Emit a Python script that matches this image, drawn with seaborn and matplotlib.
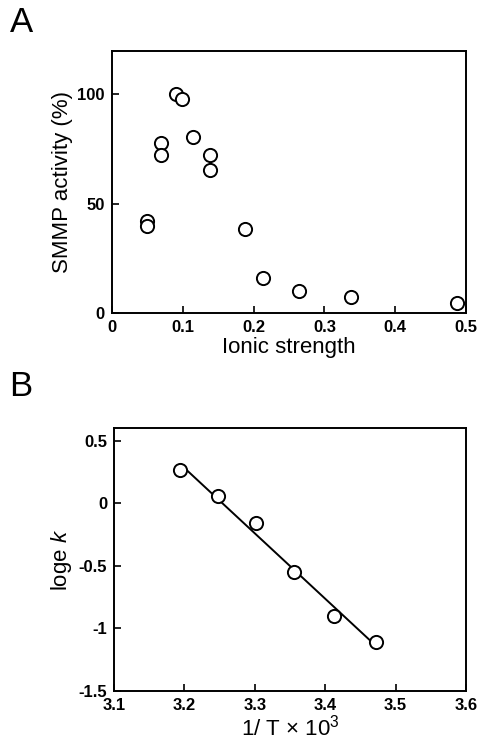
import numpy as np
import pandas as pd
import seaborn as sns
import matplotlib.pyplot as plt

# panel A: activity vs ionic strength
ionic_strength = [0.05, 0.05, 0.069, 0.069, 0.091, 0.099, 0.114, 0.139, 0.139,
                  0.188, 0.214, 0.264, 0.337, 0.487]
smmp_activity = [42, 40, 78, 72.5, 100, 98, 80.5, 72.5, 65.5,
                 38.5, 16.3, 10, 7.5, 4.7]

# panel B: Arrhenius plot
inv_temp = [3.194, 3.247, 3.301, 3.356, 3.412, 3.472]
log_k = [0.265, 0.061, -0.16, -0.553, -0.904, -1.107]

a_xticks = [0, 0.1, 0.2, 0.3, 0.4, 0.5]
a_xticklabels = ["0", "0.1", "0.2", "0.3", "0.4", "0.5"]
a_yticks = [0, 50, 100]
b_xticks = [3.1, 3.2, 3.3, 3.4, 3.5, 3.6]
b_yticks = [0.5, 0, -0.5, -1, -1.5]
b_yticklabels = ["0.5", "0", "-0.5", "-1", "-1.5"]

sns.set_theme(style="ticks")
plt.rcParams["font.family"] = ["Liberation Sans", "DejaVu Sans"]
plt.rcParams["mathtext.fontset"] = "custom"
plt.rcParams["mathtext.rm"] = "Liberation Sans"
plt.rcParams["mathtext.it"] = "Liberation Sans:italic"
plt.rcParams["axes.unicode_minus"] = False
plt.rcParams["text.color"] = "black"
plt.rcParams["axes.labelcolor"] = "black"

fig = plt.figure(figsize=(4.8, 7.46), dpi=100)
ax_a = fig.add_axes([0.233, 0.580, 0.738, 0.352])
ax_b = fig.add_axes([0.2375, 0.074, 0.7335, 0.352])

marker_kw = dict(marker="o", s=90, facecolor="white", edgecolor="black", linewidth=1.4)

df_a = pd.DataFrame({"I": ionic_strength, "act": smmp_activity})
sns.scatterplot(data=df_a, x="I", y="act", ax=ax_a, **marker_kw)
ax_a.set_xlim(0, 0.5)
ax_a.set_ylim(0, 120)
ax_a.set_xticks(a_xticks)
ax_a.set_xticklabels(a_xticklabels)
ax_a.set_yticks(a_yticks)
ax_a.set_xlabel("Ionic strength", fontsize=16, labelpad=1)
ax_a.set_ylabel("SMMP activity (%)", fontsize=16, labelpad=3)

df_b = pd.DataFrame({"invT": inv_temp, "logk": log_k})
sns.regplot(data=df_b, x="invT", y="logk", ax=ax_b, ci=None, truncate=True,
            scatter=False, line_kws=dict(color="black", linewidth=1.4))
sns.scatterplot(data=df_b, x="invT", y="logk", ax=ax_b, zorder=3, **marker_kw)
ax_b.set_xlim(3.1, 3.6)
ax_b.set_ylim(-1.5, 0.6)
ax_b.set_xticks(b_xticks)
ax_b.set_yticks(b_yticks)
ax_b.set_yticklabels(b_yticklabels)
ax_b.set_xlabel("1/ T $\\times$ 10$^3$", fontsize=16, labelpad=1)
ax_b.set_ylabel("loge $\\it{k}$", fontsize=16, labelpad=3)

for ax in (ax_a, ax_b):
    for side in ax.spines.values():
        side.set_linewidth(1.4)
        side.set_color("black")
    ax.tick_params(direction="in", length=5, width=1.2, labelsize=12,
                   colors="black", pad=5)
    for lab in ax.get_xticklabels() + ax.get_yticklabels():
        lab.set_fontweight("bold")

fig.text(0.02, 0.948, "A", fontsize=25, va="bottom")
fig.text(0.02, 0.460, "B", fontsize=25, va="bottom")

fig.savefig("out.png", dpi=100, facecolor="white")
